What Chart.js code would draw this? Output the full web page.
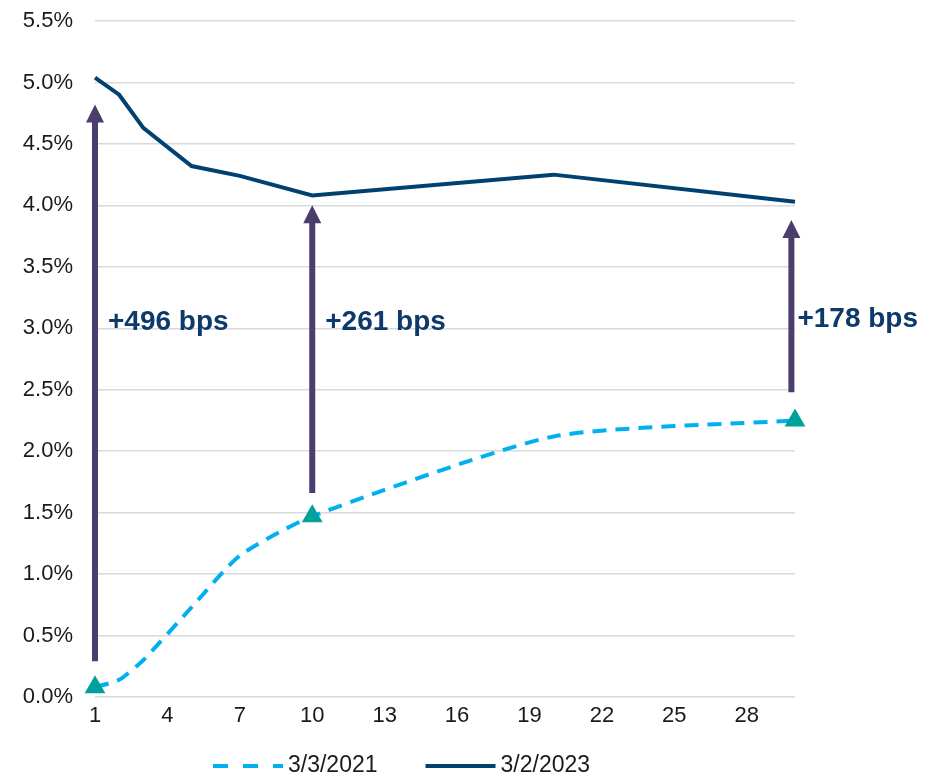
<!DOCTYPE html>
<html>
<head>
<meta charset="utf-8">
<script src="https://cdn.jsdelivr.net/npm/chart.js@4.4.0/dist/chart.umd.min.js"></script>
<style>
  html, body { margin: 0; padding: 0; background: #fff; }
  .chart-container { width: 932px; height: 777px; }
</style>
</head>
<body>
<div class="chart-container"><canvas id="curve"></canvas></div>
<script>
// maturities (years) and yields (%)
const maturities = [1, 2, 3, 5, 7, 10, 20, 30];
const yields2021 = [0.08, 0.14, 0.30, 0.73, 1.15, 1.47, 2.12, 2.25];
const yields2023 = [5.04, 4.90, 4.63, 4.32, 4.24, 4.08, 4.25, 4.03];
const seriesLabels = ['3/3/2021', '3/2/2023'];
const xTicks = [1, 4, 7, 10, 13, 16, 19, 22, 25, 28];

// change arrows: x position, start and tip in yield units, label
const arrowX = [1, 10, 29.85];
const arrowFrom = [0.29, 1.66, 2.48];
const arrowTo = [4.82, 4.0, 3.88];
const arrowLabels = ['+496 bps', '+261 bps', '+178 bps'];
const labelY = [3.05, 3.05, 3.07];

const markedIdx = [0, 5, 7];
const FONT = '"Liberation Sans", Arial, sans-serif';

const arrowPlugin = {
  id: 'arrows',
  afterDatasetsDraw(chart) {
    const { ctx, scales: { x, y } } = chart;
    ctx.save();
    arrowX.forEach((v, i) => {
      const px = x.getPixelForValue(v);
      const y0 = y.getPixelForValue(arrowFrom[i]);
      const y1 = y.getPixelForValue(arrowTo[i]);
      ctx.strokeStyle = '#4b3d6e';
      ctx.fillStyle = '#4b3d6e';
      ctx.lineWidth = 6;
      ctx.beginPath();
      ctx.moveTo(px, y0);
      ctx.lineTo(px, y1 + 16);
      ctx.stroke();
      ctx.beginPath();
      ctx.moveTo(px, y1);
      ctx.lineTo(px - 9, y1 + 18);
      ctx.lineTo(px + 9, y1 + 18);
      ctx.closePath();
      ctx.fill();

      ctx.fillStyle = '#0d3a6a';
      ctx.font = 'bold 28px ' + FONT;
      ctx.textBaseline = 'middle';
      ctx.textAlign = 'left';
      ctx.fillText(arrowLabels[i], px + (i === 2 ? 6 : 13), y.getPixelForValue(labelY[i]));
    });
    ctx.restore();
  }
};

// legend drawn by hand so it sits where the original puts it
const legendPlugin = {
  id: 'lineLegend',
  afterDraw(chart) {
    const { ctx, chartArea } = chart;
    ctx.save();
    ctx.font = '23px ' + FONT;
    ctx.textBaseline = 'middle';
    ctx.textAlign = 'left';
    const ly = chart.height - 11;
    let lx = chartArea.left + 118;
    chart.data.datasets.forEach(ds => {
      ctx.strokeStyle = ds.borderColor;
      ctx.lineWidth = 4;
      ctx.setLineDash(ds.borderDash ? [15, 15] : []);
      ctx.beginPath();
      ctx.moveTo(lx, ly);
      ctx.lineTo(lx + 70, ly);
      ctx.stroke();
      ctx.setLineDash([]);
      ctx.fillStyle = '#1a1a1a';
      ctx.fillText(ds.label, lx + 75, ly);
      lx += 75 + ctx.measureText(ds.label).width + 48;
    });
    ctx.restore();
  }
};

new Chart(document.getElementById('curve').getContext('2d'), {
  type: 'line',
  data: {
    datasets: [
      {
        label: seriesLabels[0],
        data: maturities.map((m, i) => ({ x: m, y: yields2021[i] })),
        borderColor: '#00b0f0',
        backgroundColor: '#00b0f0',
        borderWidth: 4,
        borderDash: [14, 9],
        tension: 0.2,
        clip: false,
        pointStyle: 'triangle',
        pointRadius: maturities.map((m, i) => markedIdx.includes(i) ? 12 : 0),
        pointBackgroundColor: '#00a19a',
        pointBorderColor: '#00a19a',
        pointBorderWidth: 0,
        order: 1
      },
      {
        label: seriesLabels[1],
        data: maturities.map((m, i) => ({ x: m, y: yields2023[i] })),
        borderColor: '#004170',
        backgroundColor: '#004170',
        borderWidth: 4,
        tension: 0,
        clip: false,
        pointRadius: 0,
        order: 2
      }
    ]
  },
  options: {
    responsive: true,
    maintainAspectRatio: false,
    animation: false,
    layout: { padding: { top: 21, right: 137, left: 0, bottom: 52 } },
    plugins: {
      tooltip: { enabled: false },
      legend: { display: false }
    },
    scales: {
      x: {
        type: 'linear',
        min: 1,
        max: 30,
        afterBuildTicks: s => { s.ticks = xTicks.map(v => ({ value: v })); },
        afterFit: s => { s.height = 28; },
        grid: { display: false },
        border: { display: false },
        ticks: {
          color: '#1a1a1a',
          padding: -2,
          maxRotation: 0,
          font: { size: 22, family: FONT }
        }
      },
      y: {
        min: 0,
        max: 5.5,
        afterFit: s => { s.width = 95; },
        grid: { color: '#d9d9d9', lineWidth: 1.5, drawTicks: true, tickLength: 22, tickColor: 'rgba(0,0,0,0)' },
        border: { display: false },
        ticks: {
          stepSize: 0.5,
          padding: 0,
          color: '#1a1a1a',
          font: { size: 22, family: FONT },
          callback: v => v.toFixed(1) + '%'
        }
      }
    }
  },
  plugins: [arrowPlugin, legendPlugin]
});
</script>
</body>
</html>
